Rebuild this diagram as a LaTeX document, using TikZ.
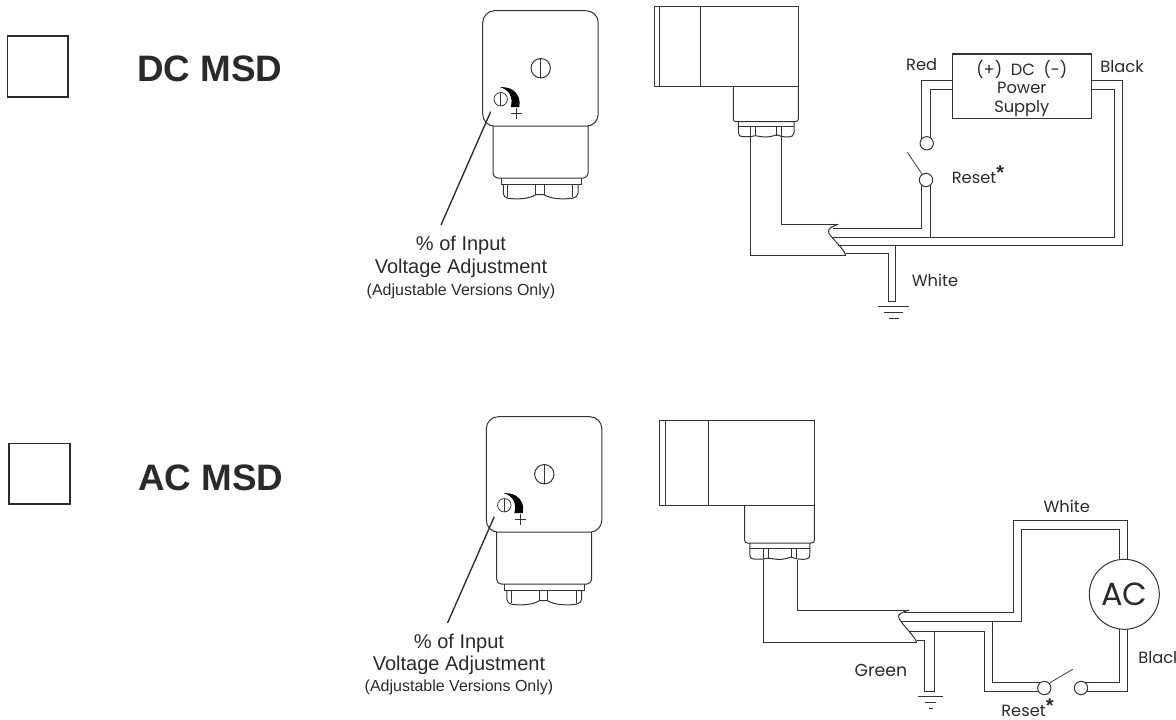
\documentclass[tikz,border=0pt]{standalone}
\usepackage{fontspec}
\setmainfont{Liberation Sans}
\newfontfamily\geo{Poppins}
\usetikzlibrary{backgrounds}
\definecolor{ink}{HTML}{2A2A2A}
\definecolor{wire}{HTML}{333333}
\newcommand{\rstar}{\raisebox{3pt}{\rmfamily\bfseries\fontsize{15pt}{15pt}\selectfont*}}
\tikzset{
  x=0.75pt,y=-0.75pt,
  ln/.style={draw=wire,line width=0.75pt,line join=miter},
  thin ln/.style={draw=wire,line width=0.55pt},
  gtext/.style={font=\geo\fontsize{12.2pt}{13.7pt}\selectfont,text=ink,inner sep=0pt},
  callout/.style={font=\fontsize{15pt}{17pt}\selectfont,text=ink,inner sep=0pt},
  callsmall/.style={font=\fontsize{12pt}{14pt}\selectfont,text=ink,inner sep=0pt},
  heading/.style={font=\bfseries\fontsize{27.6pt}{30pt}\selectfont,text=ink,inner sep=0pt},
  checkbox/.style={draw=ink,line width=1.3pt,fill=white,inner sep=0pt,minimum size=45.5pt},
  term/.style={circle,draw=wire,line width=0.75pt,fill=white,inner sep=0pt,minimum size=10pt},
  pics/frontview/.code={
    % lower body and gland
    \draw[ln,rounded corners=3.5pt] (10.3,115) -- (10.3,167.3) -- (105.3,167.3) -- (105.3,115);
    \draw[ln] (18.3,167.3) -- (18.3,173.5) -- (98.3,173.5) -- (98.3,167.3);
    \draw[ln] (20.6,173.5) -- (20.6,182.5) .. controls (21,185) and (22,187) .. (25,187.5)
      .. controls (35,189) and (47,188) .. (53,184) -- (61.5,184)
      .. controls (67,188) and (80,189) .. (90,187.5) .. controls (93,187) and (95.3,185) .. (95.3,182.5) -- (95.3,173.5);
    \draw[thin ln] (25,173.5) -- (25,186) (53,173.5) -- (53,184) (61.5,173.5) -- (61.5,184) (90,173.5) -- (90,186);
    % head
    \draw[ln,fill=white,rounded corners=9pt] (0,0) rectangle (115.5,115.5);
    % screws
    \draw[ln] (58,57.5) circle[radius=9.7];
    \draw[thin ln] (58,47.8) -- (58,67.2);
    \draw[thin ln] (18,88.5) circle[radius=6.7];
    \draw[thin ln] (18,81.8) -- (18,95.2);
    % scale mark
    \fill[black] (17.5,76.5) .. controls (30,75.5) and (39,84) .. (36.5,96.5) -- (28,96.5) .. controls (31,86) and (26,79) .. (17.5,76.5) -- cycle;
    \draw[ln,line width=0.8pt] (28.5,103) -- (39.5,103) (34,97.5) -- (34,108.5);
  },
  pics/sideview/.code={
    \draw[ln] (79.3,80) -- (79.3,112) .. controls (79.3,114) and (80,115) .. (82,115) -- (141,115)
      .. controls (143.5,115) and (144.3,114) .. (144.3,112) -- (144.3,78);
    \draw[ln] (84.3,115) -- (84.3,126) .. controls (84.5,129) and (86,130) .. (89,130)
      -- (96.7,130) .. controls (102,128) and (104,130) .. (110,130.2) .. controls (116,130.5) and (120,129) .. (122.7,128)
      .. controls (125,129) and (128,130.3) .. (134,130.2) .. controls (138,130) and (140,129) .. (140,126) -- (140,115);
    \draw[thin ln] (84.3,120) -- (140,120) (96.7,120) -- (96.7,130) (101,120) -- (101,129) (122.7,120) -- (122.7,129) (127.7,120) -- (127.7,129);
    \draw[ln] (0,0) rectangle (144.3,80);
    \draw[ln] (5.3,0) -- (5.3,80) (46,0) -- (46,80);
  },
}
\begin{document}
\begin{tikzpicture}
\useasboundingbox (0,0) rectangle (1176,719);

% check boxes and headings
\node[checkbox] (boxdc) at (37.7,66.3) {};
\node[checkbox] (boxac) at (39.6,473.8) {};
\node[heading,anchor=base west] (headdc) at (137,81.7) {DC MSD};
\node[heading,anchor=base west] (headac) at (138,490) {AC MSD};

% front views
\begin{scope}[shift={(482.7,10.7)}]
  \pic {frontview};
\end{scope}
\begin{scope}[shift={(486.3,416.7)}]
  \pic {frontview};
\end{scope}

% side views
\begin{scope}[shift={(654,6.7)}]
  \pic {sideview};
\end{scope}
\begin{scope}[shift={(659.3,420)},xscale=1.075,yscale=1.07]
  \pic {sideview};
\end{scope}

% callouts
\node[callout,anchor=base] (v1) at (461,250.7) {\% of Input};
\node[callout,anchor=base] (v2) at (461,273) {Voltage Adjustment};
\node[callsmall,anchor=base] (v3) at (461,295) {(Adjustable Versions Only)};
\coordinate (leadA) at (490.7,111.7);
\coordinate (leadB) at (441,225);
\draw[draw=ink,line width=1pt] (leadA) -- (leadB);

\node[callout,anchor=base] (w1) at (459,648.7) {\% of Input};
\node[callout,anchor=base] (w2) at (459,670) {Voltage Adjustment};
\node[callsmall,anchor=base] (w3) at (459,691) {(Adjustable Versions Only)};
\coordinate (leadC) at (494.3,516.7);
\coordinate (leadD) at (447.5,623);
\draw[draw=ink,line width=1pt] (leadC) -- (leadD);

% ---------- DC circuit ----------
\node[draw=wire,line width=0.9pt,fill=white,gtext,align=center,minimum width=104.3pt,minimum height=48.2pt,text depth=0pt] (psu) at (1021.8,86.2) {(+)\ \ DC\ \ (-)\\Power\\Supply};
\node[term] (dcA) at (926.7,143.3) {};
\node[term] (dcB) at (926,180) {};
\coordinate (dcRedO) at (921.7,80.7);
\coordinate (dcRedI) at (930,89.3);
\coordinate (dcArm) at (907.3,152.3);
\coordinate (dcGndT) at (895.7,301.7);
\begin{scope}[on background layer]
  \draw[ln] (psu.west |- dcRedO) -- (dcRedO) -- (dcRedO |- dcA.center);
  \draw[ln] (psu.west |- dcRedI) -- (dcRedI) -- (dcRedI |- dcA.center);
  % to the cable
  \draw[ln] (750.7,137) -- (750.7,255.3) -- (845.7,255.3);
  \draw[ln] (781.3,137) -- (781.3,224.3) -- (838.3,224.3);
  \draw[ln] (838.3,224.3) .. controls (833,226) and (826,229) .. (829,233.5) .. controls (833,240) and (842,246) .. (845.7,255.3);
  \draw[ln] (833,228.7) -- (921.7,228.7) -- (921.7,180);
  \draw[ln] (832,237.3) -- (1114.5,237.3) -- (1114.5,89.3) -- (psu.east |- 0,89.3);
  \draw[ln] (930,237.3) -- (930,180);
  \draw[ln] (838,245.7) -- (1122.7,245.7) -- (1122.7,80.7) -- (psu.east |- 0,80.7);
  \draw[ln] (845.7,253.3) -- (888.3,253.3) -- (888.3,301.7) -- (dcGndT) -- (895.7,245.7);
\end{scope}
\draw[thin ln] (dcArm) -- (dcB);
\draw[ln] (877.7,306.7) -- (909,306.7) (884,312.7) -- (903,312.7) (889,318.7) -- (899,318.7);
\node[gtext] (lred) at (921.7,65) {Red};
\node[gtext] (lblack) at (1122,66.7) {Black};
\node[gtext,anchor=base west] (lreset) at (951.5,183) {Reset\rstar};
\node[gtext] (lwhite) at (935,280) {White};

% ---------- AC circuit ----------
\node[circle,draw=wire,line width=0.75pt,fill=white,inner sep=0pt,minimum size=52.5pt,text=ink,font=\geo\fontsize{24pt}{24pt}\selectfont] (acm) at (1124.3,594.3) {AC};
\node[term] (acA) at (1044.3,688) {};
\node[term] (acB) at (1081,688) {};
\coordinate (acGnd) at (934,691.7);
\begin{scope}[on background layer]
  \draw[ln] (763.7,560) -- (763.7,642) -- (916.7,642);
  \draw[ln] (797,560) -- (797,610) -- (909,610);
  \draw[ln] (909,610) .. controls (904,611.5) and (896,614) .. (899,618.5) .. controls (905,628) and (912,633) .. (916.7,642);
  \draw[ln] (904,612.3) -- (1013.3,612.3) -- (1013.3,520.7) -- (1127.3,520.7) -- (1127.3,594);
  \draw[ln] (901,621.3) -- (1021.7,621.3) -- (1021.7,529) -- (1119,529) -- (1119,594);
  \draw[ln] (992.7,621.3) -- (992.7,682.7) -- (acA.center |- 0,682.7);
  \draw[ln] (909,631.7) -- (984,631.7) -- (984,691.7) -- (acA.center |- 0,691.7);
  \draw[ln] (acB.center |- 0,682.7) -- (1119,682.7) -- (1119,594);
  \draw[ln] (acB.center |- 0,691.7) -- (1127.7,691.7) -- (1127.7,594);
  \draw[ln] (916.7,640) -- (924.3,640) -- (924.3,691.7) -- (acGnd) -- (934,631.7);
\end{scope}
\draw[thin ln] (1050,682.7) -- (1072.7,669.3);
\draw[ln] (918,696) -- (942.7,696) (925,702) -- (936,702) (929,708) -- (933,708);
\node[gtext] (lwhite2) at (1066.7,506) {White};
\node[gtext,anchor=west] (lblack2) at (1138,658) {Black};
\node[gtext,font=\geo\fontsize{13pt}{14pt}\selectfont] (lgreen) at (881,670.7) {Green};
\node[gtext,anchor=base west] (lreset2) at (1001,716) {Reset\rstar};
\end{tikzpicture}
\end{document}
